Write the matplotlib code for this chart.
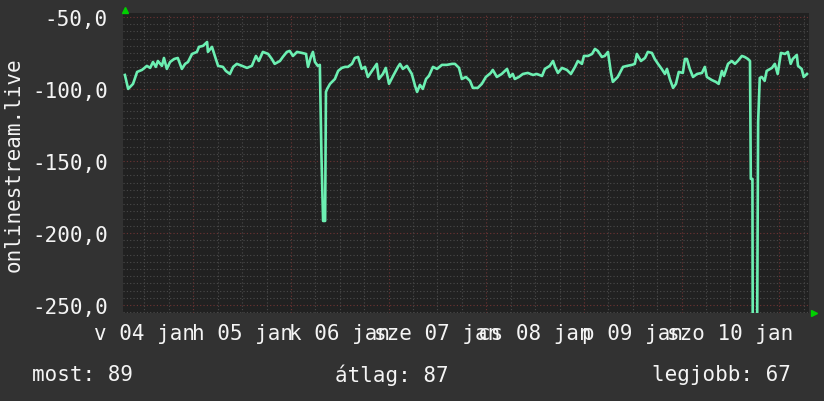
import matplotlib
matplotlib.use("Agg")
import matplotlib.pyplot as plt
from datetime import datetime, timedelta

# hours after the left edge of the graph, and the measured value
hours = [0.4, 1.2, 2.4, 3.4, 4.6, 5.8, 6.6, 7.3, 8.0, 8.5, 9.5, 10.0, 10.7, 11.5, 12.5,
         13.4, 14.4, 15.2, 15.9, 16.9, 18.1, 18.6, 19.6, 20.6, 20.8, 21.8, 22.5, 23.3,
         24.5, 25.2, 26.2, 27.0, 27.9, 29.2, 30.4, 31.6, 32.6, 33.3, 34.3, 35.6, 36.5,
         37.2, 38.5, 39.2, 40.2, 40.9, 41.7, 42.7, 43.9, 44.9, 45.4, 46.1, 46.6, 47.1,
         47.8, 48.3, 48.7, 49.1, 49.6, 49.8, 50.1, 50.8, 52.0, 52.8, 53.7, 54.5, 55.2,
         56.2, 56.9, 57.7, 58.6, 59.4, 60.1, 61.1, 62.3, 62.8, 63.8, 64.5, 65.3, 66.3,
         67.5, 68.0, 68.7, 69.7, 70.9, 71.7, 72.2, 72.9, 73.6, 74.4, 75.1, 76.1, 77.1,
         78.3, 79.5, 80.8, 81.5, 82.5, 83.2, 84.2, 85.2, 85.9, 87.1, 88.1, 89.1, 90.3,
         90.8, 91.8, 93.0, 94.3, 95.0, 95.7, 96.2, 97.2, 98.2, 99.4, 100.7, 101.6, 102.9,
         103.6, 104.8, 105.6, 106.1, 106.8, 107.8, 109.0, 110.0, 111.0, 111.7, 112.7,
         113.2, 114.2, 115.2, 115.9, 116.6, 117.6, 118.3, 119.1, 119.8, 120.3, 121.5,
         122.8, 123.8, 125.0, 125.7, 126.2, 127.2, 128.2, 128.9, 129.9, 130.6, 131.4,
         132.3, 133.1, 133.6, 134.3, 135.1, 135.8, 136.5, 137.5, 138.0, 138.5, 139.2,
         140.0, 141.0, 142.2, 142.9, 143.4, 144.6, 145.6, 146.3, 147.1, 147.6, 148.6,
         149.5, 150.3, 151.0, 152.0, 152.7, 153.5, 154.0, 154.2, 154.6, 154.7, 155.7,
         156.0, 156.4, 156.9, 157.6, 158.1, 159.4, 160.1, 160.8, 161.6, 162.6, 163.3,
         164.0, 164.5, 165.5, 165.8, 166.7, 167.2, 168.0]
values = [-90.3, -100.0, -96.5, -88.2, -86.8, -84.0, -85.4, -81.3, -84.7, -80.6, -84.0,
          -78.5, -86.1, -81.3, -79.2, -78.5, -86.1, -82.6, -81.3, -75.7, -74.3, -70.8,
          -70.1, -67.4, -74.3, -70.8, -77.1, -84.0, -84.7, -87.5, -89.6, -84.7, -82.6,
          -84.0, -85.4, -84.0, -77.1, -80.6, -74.3, -75.7, -79.2, -82.6, -80.6, -77.8,
          -74.3, -73.6, -77.1, -74.3, -75.0, -75.7, -84.7, -77.8, -74.3, -81.3, -84.0,
          -83.3, -146.5, -191.7, -191.7, -102.1, -100.0, -96.5, -93.1, -87.5, -85.4,
          -84.7, -84.7, -82.6, -78.5, -77.8, -86.1, -84.7, -91.7, -87.5, -82.6, -93.1,
          -89.6, -85.4, -96.5, -91.0, -84.7, -82.6, -86.1, -84.0, -89.6, -97.9, -102.1,
          -97.2, -100.0, -93.1, -91.0, -84.7, -86.1, -83.3, -83.3, -82.6, -82.6, -85.4,
          -93.1, -91.7, -94.4, -99.3, -99.3, -96.5, -91.7, -88.9, -86.8, -91.7, -89.6,
          -86.1, -91.7, -89.6, -93.1, -91.7, -89.6, -88.9, -90.3, -89.6, -91.0, -86.1,
          -84.0, -80.6, -84.7, -88.9, -85.4, -86.8, -89.6, -84.7, -80.6, -82.6, -77.1,
          -77.1, -75.7, -72.2, -73.6, -77.8, -77.1, -74.3, -88.2, -95.1, -91.7, -84.7,
          -84.0, -83.3, -82.6, -75.7, -80.6, -78.5, -74.3, -75.0, -79.2, -82.6, -86.1,
          -89.6, -86.1, -93.1, -99.3, -96.5, -88.2, -88.9, -79.2, -79.2, -86.1, -91.7,
          -89.6, -88.9, -84.7, -91.7, -93.8, -95.1, -96.5, -87.5, -91.0, -82.6, -80.6,
          -82.6, -80.6, -77.1, -77.8, -79.2, -80.6, -162.5, -162.5, -300.0, -300.0,
          -122.9, -92.4, -91.7, -94.4, -87.5, -85.4, -82.6, -89.6, -75.0, -75.7, -74.3,
          -82.6, -79.2, -76.4, -84.0, -86.1, -91.7, -89.6]

day_labels = ["v 04 jan", "h 05 jan", "k 06 jan", "sze 07 jan",
              "cs 08 jan", "p 09 jan", "szo 10 jan"]
y_ticks = [-50, -100, -150, -200, -250]
series_name = "onlinestream.live"
stats = ["most: 89", "átlag: 87", "legjobb: 67"]

start = datetime(2015, 1, 4, 6, 48)
end = start + timedelta(hours=168.5)
times = [start + timedelta(hours=h) for h in hours]

bg = "#323232"
canvas = "#212121"
fg = "#f4f4f4"
font = "DejaVu Sans Mono"

fig = plt.figure(figsize=(8.24, 4.02), dpi=100, facecolor=bg)
ax = fig.add_axes([0.1496, 0.219, 0.8322, 0.745])
ax.set_facecolor(canvas)

# grid: minor every 5 units / 6 hours, red every 50 units / midnight
for v in range(-255, -45, 5):
    if v % 50 == 0:
        ax.axhline(v, color="#6e3434", lw=0.8, ls=(0, (1, 2)), zorder=1)
    else:
        ax.axhline(v, color="#4a4a4a", lw=0.8, ls=(0, (1, 2)), zorder=1)
t = datetime(2015, 1, 4, 12)
while t < end:
    if t.hour == 0:
        ax.axvline(t, color="#6e3434", lw=0.8, ls=(0, (1, 2)), zorder=1)
    else:
        ax.axvline(t, color="#4a4a4a", lw=0.8, ls=(0, (1, 2)), zorder=1)
    t += timedelta(hours=6)

ax.plot(times, values, color="#6cefb2", lw=1.9, zorder=3)

ax.set_xlim(start, end)
ax.set_ylim(-255.6, -47.6)

noons = [datetime(2015, 1, 4 + i, 12) for i in range(len(day_labels))]
ax.set_xticks(noons)
ax.set_xticklabels(day_labels)
ax.set_yticks(y_ticks)
ax.set_yticklabels([("%.1f" % v).replace(".", ",") for v in y_ticks])
ax.tick_params(length=0, colors=fg, labelsize=15, pad=7.5)
ax.tick_params(axis="y", pad=11)
for lab in ax.get_xticklabels() + ax.get_yticklabels():
    lab.set_family(font)

for s in ax.spines.values():
    s.set_visible(False)

ax.set_ylabel(series_name, color=fg, fontsize=15, family=font)
ax.yaxis.set_label_coords(-0.146, 0.5)

# axis arrows
fig.add_artist(plt.Line2D([125 / 824], [1 - 11 / 402], marker="^", ms=5,
                          color="#00d000", transform=fig.transFigure))
fig.add_artist(plt.Line2D([814 / 824], [1 - 314 / 402], marker=">", ms=5,
                          color="#00d000", transform=fig.transFigure))

fig.text(32 / 824, 1 - 375 / 402, stats[0], color=fg, fontsize=15, family=font,
         ha="left", va="center")
fig.text(392 / 824, 1 - 375 / 402, stats[1], color=fg, fontsize=15, family=font,
         ha="center", va="center")
fig.text(791 / 824, 1 - 375 / 402, stats[2], color=fg, fontsize=15, family=font,
         ha="right", va="center")

fig.savefig("out.png", dpi=100, facecolor=bg)
